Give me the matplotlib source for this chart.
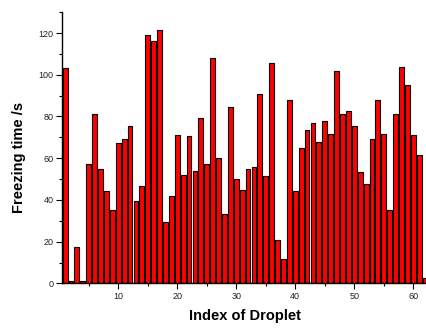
import numpy as np
import matplotlib
matplotlib.use("Agg")
import matplotlib.pyplot as plt
from matplotlib.ticker import MultipleLocator

# droplet index and freezing time (s)
droplet_index = list(range(1, 63))
freezing_time = [103, 1, 17.6, 1, 57.2, 81.1, 55, 44.2, 35.3, 67.3,
                 69.2, 75.6, 39.7, 46.8, 118.9, 116.3, 121.3, 29.5, 41.7, 71,
                 51.9, 70.4, 53.8, 79.2, 57.1, 108, 60.1, 33.3, 84.5, 49.8,
                 44.9, 55, 55.8, 90.7, 51.3, 105.6, 20.7, 11.7, 87.8, 44.2,
                 64.7, 73.6, 76.8, 67.8, 78, 71.6, 101.8, 81.2, 82.7, 75.3,
                 53.2, 47.6, 69.2, 87.8, 71.6, 35.4, 81.2, 103.5, 95.2, 71.2,
                 61.5, 2.4]

plt.rcParams['font.family'] = ['Liberation Sans', 'DejaVu Sans']

fig = plt.figure(figsize=(4.27, 3.28), dpi=100)
ax = fig.add_axes([0.145, 0.136, 0.855, 0.827])

ax.bar(droplet_index, freezing_time, width=0.82, color='#ff0000',
       edgecolor='black', linewidth=0.8)

ax.set_xlim(0.46, 62.32)
ax.set_ylim(0, 130)
ax.xaxis.set_major_locator(MultipleLocator(10))
ax.xaxis.set_minor_locator(MultipleLocator(5))
ax.yaxis.set_major_locator(MultipleLocator(20))
ax.yaxis.set_minor_locator(MultipleLocator(10))
ax.set_xticks([10, 20, 30, 40, 50, 60])

ax.spines['top'].set_visible(False)
ax.spines['right'].set_visible(False)
ax.spines['left'].set_linewidth(1.0)
ax.spines['bottom'].set_linewidth(1.0)
ax.tick_params(which='major', direction='out', length=4, width=0.8,
               labelsize=6.5, pad=2, colors='black', labelcolor='#222222')
ax.tick_params(which='minor', direction='out', length=2.5, width=0.8)

ax.set_xlabel('Index of Droplet', fontsize=10.5, fontweight='bold', labelpad=6)
ax.set_ylabel('Freezing time /s', fontsize=10.5, fontweight='bold')
ax.yaxis.set_label_coords(-0.098, 0.466)

fig.savefig('out.png', dpi=100)
